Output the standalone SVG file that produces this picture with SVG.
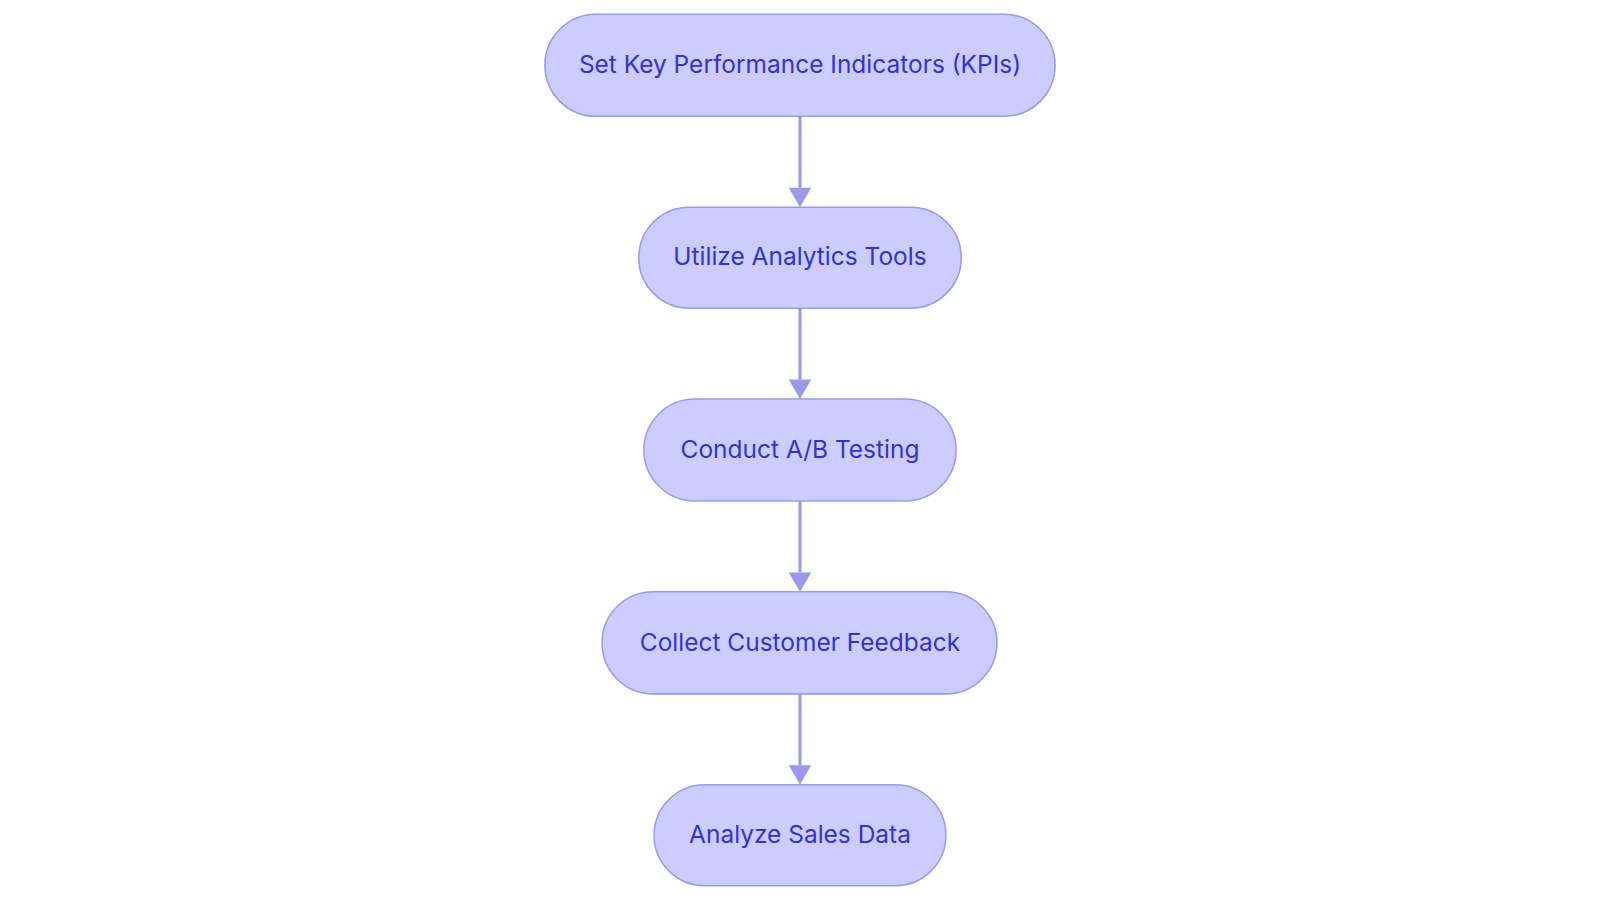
<svg xmlns="http://www.w3.org/2000/svg" width="1600" height="903" viewBox="0 0 1600 903">
<style>
.n rect{fill:#ccccff;stroke:#9999ee;stroke-width:1.5}
.n text{font-family:Inter,"Noto Sans",sans-serif;font-size:24px;fill:#3333cc;text-anchor:middle;dominant-baseline:central}
.e{stroke:#9999ee;stroke-width:3;fill:none}
.h{fill:#9999ee}
</style>
<rect width="1600" height="903" fill="#fff"/>
<g transform="scale(1.0204)">
<g id="edges">
<path class="e" d="M784,114V184"/><path class="h" d="M773,184h22l-11,19z"/>
<path class="e" d="M784,302V372"/><path class="h" d="M773,372h22l-11,19z"/>
<path class="e" d="M784,491V561"/><path class="h" d="M773,561h22l-11,19z"/>
<path class="e" d="M784,680V750"/><path class="h" d="M773,750h22l-11,19z"/>
</g>
<g id="n1" class="n"><rect x="534" y="14" width="500" height="100" rx="50"/><text x="784" y="63">Set Key Performance Indicators (KPIs)</text></g>
<g id="n2" class="n"><rect x="626" y="203" width="316" height="99" rx="49.5"/><text x="784" y="251">Utilize Analytics Tools</text></g>
<g id="n3" class="n"><rect x="631" y="391" width="306" height="100" rx="50"/><text x="784" y="440">Conduct A/B Testing</text></g>
<g id="n4" class="n"><rect x="590" y="580" width="387" height="100" rx="50"/><text x="784" y="629">Collect Customer Feedback</text></g>
<g id="n5" class="n"><rect x="641" y="769" width="286" height="99" rx="49.5"/><text x="784" y="817">Analyze Sales Data</text></g>
</g>
</svg>
